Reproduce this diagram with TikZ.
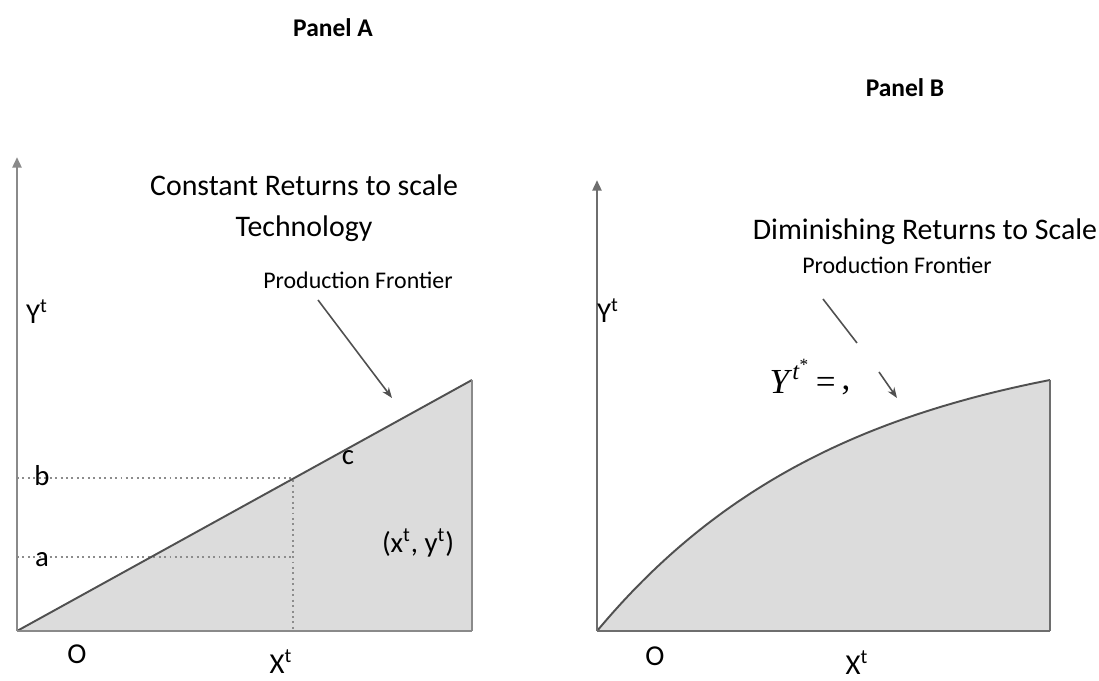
\documentclass[tikz,border=0pt]{standalone}
\usepackage{fontspec}
\setmainfont{Carlito}
\newfontfamily\timesfont{Liberation Serif}
\usetikzlibrary{arrows.meta,positioning,calc}
\definecolor{axisgray}{HTML}{8A8A8A}
\definecolor{axisdark}{HTML}{6E6E6E}
\definecolor{shadegray}{HTML}{DCDCDC}
\definecolor{edgegray}{HTML}{505050}
\definecolor{dotgray}{HTML}{8C8C8C}
\tikzset{
  axisline/.style={line width=1.7pt, color=#1},
  axisline/.default=axisgray,
  axisarrow/.style={-{Triangle[length=6pt,width=5pt]}, line width=1.5pt, color=#1},
  axisarrow/.default=axisgray,
  frontier/.style={line width=1.1pt, color=edgegray},
  guideline/.style={dotted, line width=1.1pt, color=dotgray},
  pointer/.style={-{Stealth[length=6pt,width=4.5pt]}, line width=0.9pt, color=edgegray},
  panellabel/.style={font=\fontsize{14.5}{17}\selectfont\bfseries, inner sep=0pt},
  titlelabel/.style={font=\fontsize{17}{23}\selectfont, inner sep=0pt, align=center},
  smalllabel/.style={font=\fontsize{13.6}{16}\selectfont, inner sep=0pt},
  axislabel/.style={font=\fontsize{16.4}{19}\selectfont, inner sep=0pt},
  eqlabel/.style={font=\timesfont\fontsize{20}{22}\selectfont, inner sep=0pt},
}
\begin{document}
\begin{tikzpicture}[x=0.2mm, y=-0.2mm]
  \useasboundingbox (0,0) rectangle (1099,681);

  % Panel A: constant returns
  \coordinate (oA) at (17,631);
  \coordinate (yA) at (17,157);
  \coordinate (xA) at (472,631);
  \coordinate (tA) at (472,380);
  \coordinate (pA) at (293,478);
  \coordinate (bA) at (17,478);
  \coordinate (aA) at (17,557);
  \coordinate (qA) at (293,557);

  \fill[shadegray] (oA) -- (tA) -- (xA) -- cycle;
  \draw[guideline] (bA) -- (pA) -- (pA |- oA);
  \draw[guideline] (aA) -- (qA);
  \draw[frontier] (oA) -- (tA);
  \draw[axisline] (tA) -- (xA);
  \draw[axisline] (oA) -- (xA);
  \draw[axisarrow] (oA) -- (yA);

  \node[panellabel] (panA) at (333,28) {Panel A};
  \node[titlelabel] (ttlA) at (304,208) {Constant Returns to scale\\Technology};
  \node[smalllabel] (pfA) at (358,280) {Production Frontier};
  \coordinate (pfA tail) at (318,300);
  \coordinate (pfA tip) at (392,398);
  \draw[pointer] (pfA tail) -- (pfA tip);

  \node[axislabel] (ylabA) at (37,312) {Y\textsuperscript{t}};
  \node[axislabel] (bLab) at (42,476) {b};
  \node[axislabel] (aLab) at (42,560) {a};
  \node[axislabel] (cLab) at (348,458) {c};
  \node[axislabel] (ptLab) at (418,543) {(x\textsuperscript{t}, y\textsuperscript{t})};
  \node[axislabel, anchor=base] (oLabA) at (77,664) {O};
  \node[axislabel, anchor=base] (xlabA) at (281,674) {X\textsuperscript{t}};

  % Panel B: diminishing returns
  \coordinate (oB) at (597,631);
  \coordinate (yB) at (597,180);
  \coordinate (xB) at (1050,631);
  \coordinate (tB) at (1050,380);

  \fill[shadegray] (oB) -- plot[domain=0:453, samples=80] ({597+\x},{631-300*(1-exp(-\x/250))}) -- (xB) -- cycle;
  \draw[frontier] plot[domain=0:453, samples=80] ({597+\x},{631-300*(1-exp(-\x/250))});
  \draw[axisline=axisdark] (tB) -- (xB);
  \draw[axisline=axisdark] (oB) -- (xB);
  \draw[axisarrow=axisdark] (oB) -- (yB);

  \node[panellabel] (panB) at (905,88) {Panel B};
  \node[titlelabel] (ttlB) at (925,232) {Diminishing Returns to Scale};
  \node[smalllabel] (pfB) at (897,265) {Production Frontier};
  \coordinate (pfB a) at (823,299);
  \coordinate (pfB b) at (857,343);
  \coordinate (pfB c) at (879,372);
  \coordinate (pfB tip) at (897,398);
  \draw[frontier, line width=0.9pt] (pfB a) -- (pfB b);
  \draw[pointer] (pfB c) -- (pfB tip);
  \node[eqlabel] (eqB) at (810,377) {\textit{Y}\textsuperscript{\textit{t}\textsuperscript{*}}\,=\,\raisebox{0.25ex}{,}};

  \node[axislabel] (ylabB) at (608,311) {Y\textsuperscript{t}};
  \node[axislabel, anchor=base] (oLabB) at (655,666) {O};
  \node[axislabel, anchor=base] (xlabB) at (857,675) {X\textsuperscript{t}};
\end{tikzpicture}
\end{document}
